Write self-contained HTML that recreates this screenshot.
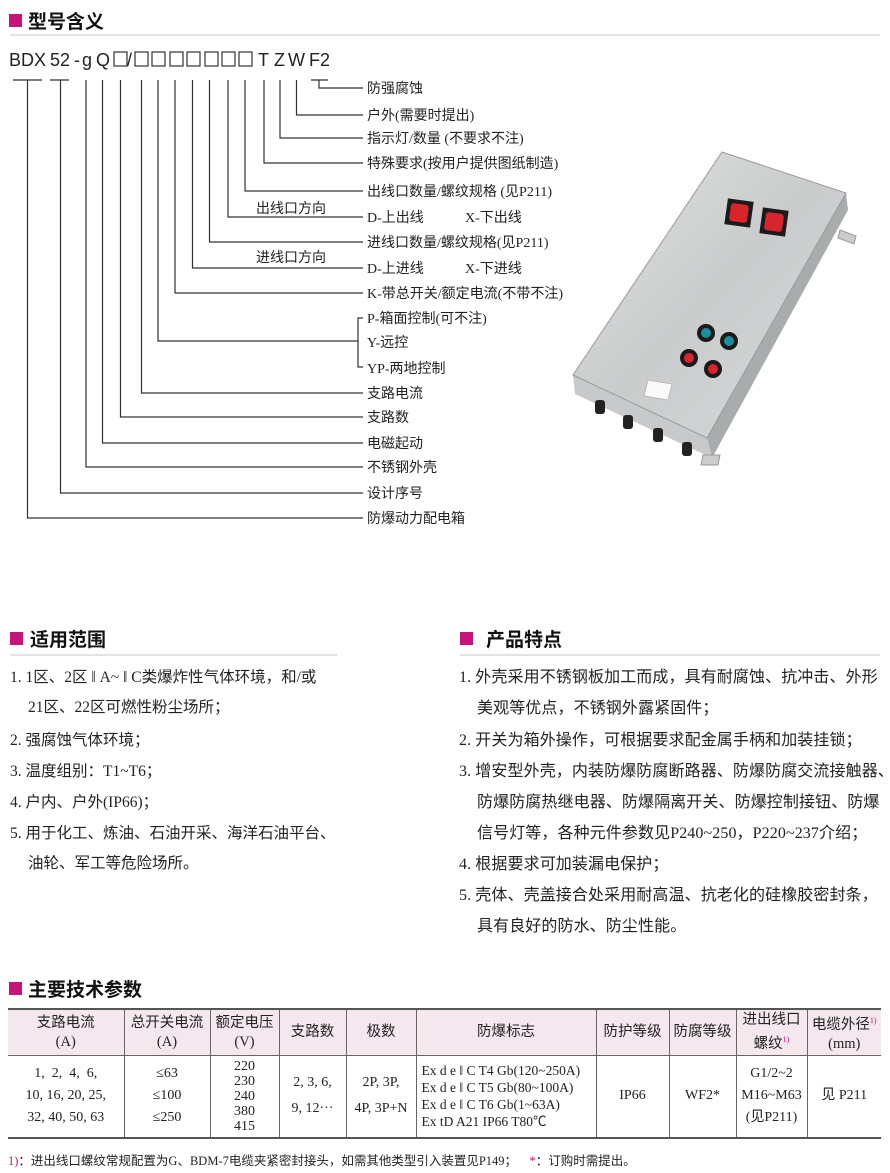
<!DOCTYPE html>
<html><head><meta charset="utf-8"><style>
body{margin:0;width:890px;height:1173px;background:#fff;position:relative;overflow:hidden;font-family:"Liberation Serif","Noto Sans CJK SC",serif;color:#222}
.a{position:absolute;white-space:nowrap}
.h{font-family:"Liberation Sans","Noto Sans CJK SC",sans-serif;font-weight:bold;font-size:19px;color:#111}
.sq{position:absolute;width:13px;height:13px;background:#c8137a}
.hl{position:absolute;height:2px;background:#e3e3e3}
.L{font-size:15.5px;line-height:20px}
.R{font-size:16px;letter-spacing:0.1px;line-height:20px}
table{position:absolute;left:8px;top:1008px;border-collapse:collapse;font-size:14px;width:873px;table-layout:fixed}
td{border:1px solid #666;text-align:center;padding:0;line-height:16px;white-space:nowrap;overflow:hidden}
tr.hd td{background:#f4e7ee;height:45px;font-family:"Liberation Serif","Noto Sans CJK SC",serif;font-size:14.5px;line-height:19px}
table{border-top:2px solid #555;border-bottom:2px solid #555}
td:first-child{border-left:none}td:last-child{border-right:none}
</style></head><body>
<div class="sq" style="left:9px;top:14px"></div><div class="a h" style="left:28px;top:7px">型号含义</div>
<div class="hl" style="left:10px;top:34px;width:870px"></div>

<svg class="a" style="left:0;top:0" width="890" height="560">
<g font-family="Liberation Sans, sans-serif" font-size="18" fill="#222">
<text x="9" y="66">BDX</text><text x="50" y="66">52</text><text x="74" y="66">-</text><text x="82" y="66">g</text><text x="96" y="66">Q</text>
<text x="127" y="66">/</text><text x="258" y="66">T</text><text x="274" y="66">Z</text><text x="288" y="66">W</text><text x="309" y="66">F2</text>
</g>
<g fill="none" stroke="#333" stroke-width="1.2">
<rect x="114" y="52" width="13" height="14"/>
<rect x="135" y="52" width="13" height="14"/><rect x="152" y="52" width="13" height="14"/><rect x="170" y="52" width="13" height="14"/><rect x="187" y="52" width="13" height="14"/><rect x="205" y="52" width="13" height="14"/><rect x="222" y="52" width="13" height="14"/><rect x="239" y="52" width="13" height="14"/>
<path d="M13 80H42M50 80H69M311 80H328"/>
<path d="M319 80V88H363"/>
<path d="M296.5 80V115H363"/>
<path d="M280 80V138H363"/>
<path d="M264 80V163H363"/>
<path d="M245 80V191H363"/>
<path d="M228 80V217H363"/>
<path d="M209.5 80V242H363"/>
<path d="M192.5 80V268H363"/>
<path d="M175 80V293H363"/>
<path d="M158 80V341H358M363 318H358V367H363"/>
<path d="M141.5 80V393H363"/>
<path d="M120.5 80V417H363"/>
<path d="M102.5 80V443H363"/>
<path d="M86 80V467H363"/>
<path d="M60.5 80V493H363"/>
<path d="M27.5 80V518H363"/>
</g>
<g font-family="Liberation Serif, Noto Sans CJK SC, serif" font-size="14" fill="#222">
<text x="367" y="93">防强腐蚀</text>
<text x="367" y="120">户外(需要时提出)</text>
<text x="367" y="143">指示灯/数量 (不要求不注)</text>
<text x="367" y="168">特殊要求(按用户提供图纸制造)</text>
<text x="367" y="196">出线口数量/螺纹规格 (见P211)</text>
<text x="256" y="213">出线口方向</text>
<text x="367" y="222">D-上出线</text><text x="465" y="222">X-下出线</text>
<text x="367" y="247">进线口数量/螺纹规格(见P211)</text>
<text x="256" y="262">进线口方向</text>
<text x="367" y="273">D-上进线</text><text x="465" y="273">X-下进线</text>
<text x="367" y="298">K-带总开关/额定电流(不带不注)</text>
<text x="367" y="323">P-箱面控制(可不注)</text>
<text x="367" y="347">Y-远控</text>
<text x="367" y="373">YP-两地控制</text>
<text x="367" y="398">支路电流</text>
<text x="367" y="422">支路数</text>
<text x="367" y="448">电磁起动</text>
<text x="367" y="472">不锈钢外壳</text>
<text x="367" y="498">设计序号</text>
<text x="367" y="523">防爆动力配电箱</text>
</g>
<polygon points="846,193 848,210 712,458 707,438" fill="#a9acad"/>
<polygon points="573,375 707,438 712,458 575,394" fill="#c7c9ca"/>
<polygon points="840,230 856,236 854,244 838,238" fill="#ccc" stroke="#999"/>
<polygon points="703,455 720,455 718,465 701,465" fill="#ccc" stroke="#999"/>
<defs><linearGradient id="g" x1="0" y1="0" x2="1" y2="1"><stop offset="0" stop-color="#e2e3e3"/><stop offset="0.5" stop-color="#c9cbcc"/><stop offset="1" stop-color="#d8d9da"/></linearGradient></defs>
<polygon points="722,152 846,193 707,438 573,375" fill="url(#g)" stroke="#999"/>
<g transform="rotate(8 739 213)"><rect x="726" y="200" width="26" height="26" fill="#1b1b1b"/><rect x="730" y="204" width="18" height="18" rx="3" fill="#d8252c"/></g>
<g transform="rotate(8 774 222)"><rect x="761" y="209" width="26" height="26" fill="#1b1b1b"/><rect x="765" y="213" width="18" height="18" rx="3" fill="#d8252c"/></g>
<circle cx="706" cy="333" r="9" fill="#1a1a1a"/><circle cx="706" cy="333" r="5" fill="#1c8ea0"/>
<circle cx="729" cy="341" r="9" fill="#1a1a1a"/><circle cx="729" cy="341" r="5" fill="#1c8ea0"/>
<circle cx="689" cy="358" r="9" fill="#1a1a1a"/><circle cx="689" cy="358" r="5" fill="#d8252c"/>
<circle cx="713" cy="369" r="9" fill="#1a1a1a"/><circle cx="713" cy="369" r="5" fill="#d8252c"/>
<polygon points="648,380 672,384 668,400 644,396" fill="#fafafa" stroke="#bbb"/>
<g fill="#222"><rect x="595" y="400" width="10" height="14" rx="3"/><rect x="623" y="415" width="10" height="14" rx="3"/><rect x="653" y="428" width="10" height="14" rx="3"/><rect x="682" y="442" width="10" height="14" rx="3"/></g>
</svg>

<div class="sq" style="left:10px;top:632px"></div><div class="a h" style="left:30px;top:625px">适用范围</div>
<div class="hl" style="left:10px;top:654px;width:327px"></div>
<div class="a L" style="left:10px;top:668px">1. 1区、2区 ‖ A~ ‖ C类爆炸性气体环境，和/或</div>
<div class="a L" style="left:28px;top:698px">21区、22区可燃性粉尘场所；</div>
<div class="a L" style="left:10px;top:731px">2. 强腐蚀气体环境；</div>
<div class="a L" style="left:10px;top:762px">3. 温度组别：T1~T6；</div>
<div class="a L" style="left:10px;top:793px">4. 户内、户外(IP66)；</div>
<div class="a L" style="left:10px;top:824px">5. 用于化工、炼油、石油开采、海洋石油平台、</div>
<div class="a L" style="left:28px;top:854px">油轮、军工等危险场所。</div>

<div class="sq" style="left:460px;top:632px"></div><div class="a h" style="left:486px;top:625px">产品特点</div>
<div class="hl" style="left:460px;top:654px;width:420px"></div>
<div class="a R" style="left:459px;top:668px">1. 外壳采用不锈钢板加工而成，具有耐腐蚀、抗冲击、外形</div>
<div class="a R" style="left:477px;top:699px">美观等优点，不锈钢外露紧固件；</div>
<div class="a R" style="left:459px;top:731px">2. 开关为箱外操作，可根据要求配金属手柄和加装挂锁；</div>
<div class="a R" style="left:459px;top:762px">3. 增安型外壳，内装防爆防腐断路器、防爆防腐交流接触器、</div>
<div class="a R" style="left:477px;top:793px">防爆防腐热继电器、防爆隔离开关、防爆控制接钮、防爆</div>
<div class="a R" style="left:477px;top:824px">信号灯等，各种元件参数见P240~250，P220~237介绍；</div>
<div class="a R" style="left:459px;top:855px">4. 根据要求可加装漏电保护；</div>
<div class="a R" style="left:459px;top:886px">5. 壳体、壳盖接合处采用耐高温、抗老化的硅橡胶密封条，</div>
<div class="a R" style="left:477px;top:917px">具有良好的防水、防尘性能。</div>

<div class="sq" style="left:9px;top:982px"></div><div class="a h" style="left:28px;top:975px">主要技术参数</div>
<table>
<colgroup><col style="width:116px"><col style="width:86px"><col style="width:69px"><col style="width:67px"><col style="width:70px"><col style="width:180px"><col style="width:73px"><col style="width:67px"><col style="width:71px"><col style="width:74px"></colgroup>
<tr class="hd"><td>支路电流<br>(A)</td><td>总开关电流<br>(A)</td><td>额定电压<br>(V)</td><td>支路数</td><td>极数</td><td>防爆标志</td><td>防护等级</td><td>防腐等级</td><td>进出线口<br>螺纹<sup style="color:#c8137a;font-size:8px">1)</sup></td><td>电缆外径<sup style="color:#c8137a;font-size:8px">1)</sup><br>(mm)</td></tr>
<tr style="height:82px"><td style="line-height:22px">1,&nbsp; 2,&nbsp; 4,&nbsp; 6,<br>10, 16, 20, 25,<br>32, 40, 50, 63</td><td style="line-height:22px">≤63<br>≤100<br>≤250</td><td style="line-height:15px">220<br>230<br>240<br>380<br>415</td><td style="line-height:26px">2, 3, 6,<br>9, 12···</td><td style="line-height:26px">2P, 3P,<br>4P, 3P+N</td><td style="text-align:left;padding-left:5px;line-height:17px;font-size:13.5px">Ex d e ‖ C T4 Gb(120~250A)<br>Ex d e ‖ C T5 Gb(80~100A)<br>Ex d e ‖ C T6 Gb(1~63A)<br>Ex tD A21 IP66 T80℃</td><td>IP66</td><td>WF2*</td><td style="line-height:22px">G1/2~2<br>M16~M63<br>(见P211)</td><td>见 P211</td></tr>
</table>
<div class="a" style="left:8px;top:1150px;font-size:12.5px"><span style="color:#c8137a">1)</span>：进出线口螺纹常规配置为G、BDM-7电缆夹紧密封接头，如需其他类型引入装置见P149；&nbsp;&nbsp;&nbsp;&nbsp;<span style="color:#c8137a">*</span>：订购时需提出。</div>
</body></html>
